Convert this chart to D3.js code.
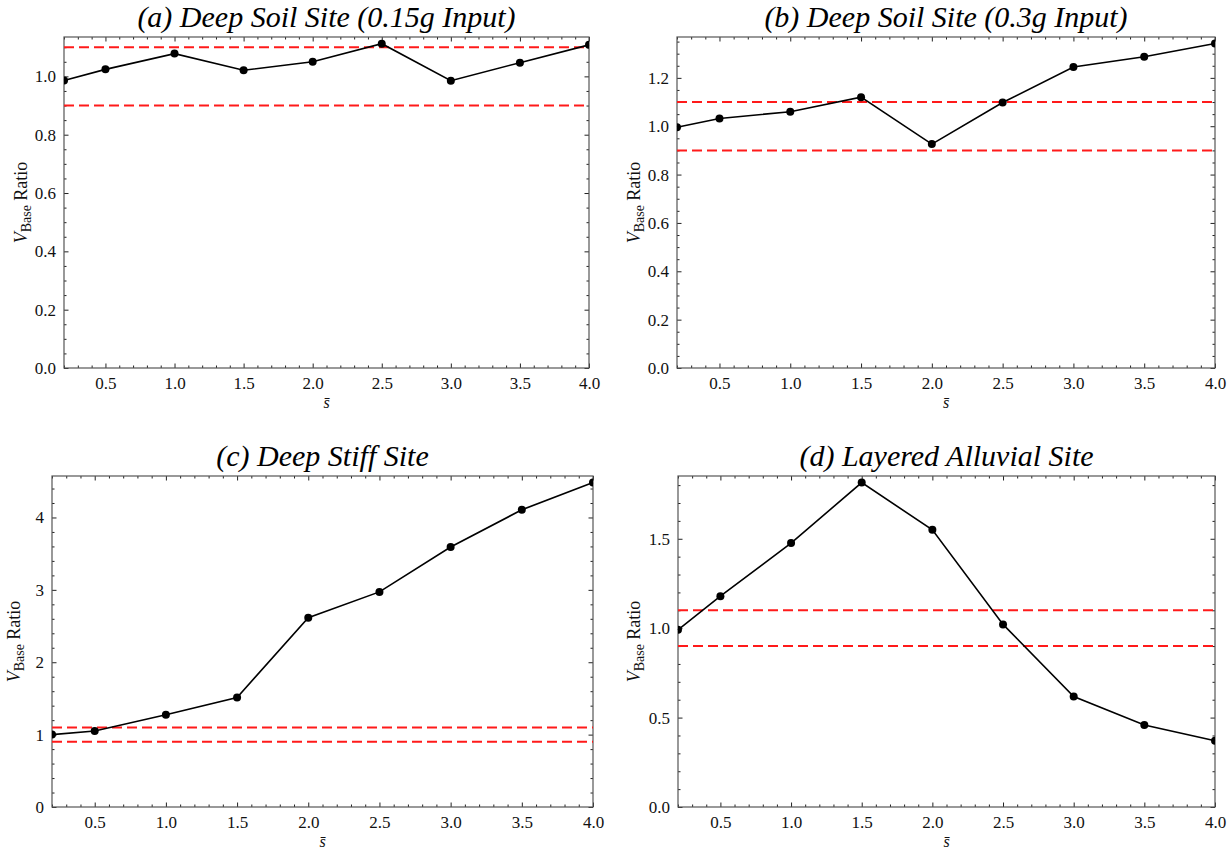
<!DOCTYPE html>
<html>
<head>
<meta charset="utf-8">
<script src="https://cdn.jsdelivr.net/npm/d3@7"></script>
<style>
  body { margin: 0; background: #fff; }
  svg { display: block; }
</style>
</head>
<body>
<svg id="chart" width="1228" height="852"></svg>
<script>
// ---- data ----
const sValues = [0.2, 0.5, 1.0, 1.5, 2.0, 2.5, 3.0, 3.5, 4.0];
const deepSoil015 = [0.986, 1.024, 1.078, 1.021, 1.050, 1.112, 0.985, 1.047, 1.108];
const deepSoil03 = [0.996, 1.032, 1.060, 1.120, 0.926, 1.098, 1.245, 1.287, 1.342];
const deepStiff = [1.000, 1.050, 1.275, 1.514, 2.615, 2.972, 3.592, 4.106, 4.482];
const layeredAlluvial = [0.991, 1.179, 1.476, 1.814, 1.550, 1.021, 0.618, 0.459, 0.371];
const limitLines = [1.1, 0.9];
const titles = ["(a) Deep Soil Site (0.15g Input)", "(b) Deep Soil Site (0.3g Input)", "(c) Deep Stiff Site", "(d) Layered Alluvial Site"];
const xTicks = [0.5, 1.0, 1.5, 2.0, 2.5, 3.0, 3.5, 4.0];
const yTicksA = [0.0, 0.2, 0.4, 0.6, 0.8, 1.0];
const yTicksB = [0.0, 0.2, 0.4, 0.6, 0.8, 1.0, 1.2];
const yTicksC = [0, 1, 2, 3, 4];
const yTicksD = [0.0, 0.5, 1.0, 1.5];

// ---- layout ----
const panels = [
  { series: deepSoil015, title: titles[0], yTicks: yTicksA, yMax: 1.135, yMinorStep: 0.05, fmt: d3.format(".1f"),
    left: 64, right: 589, top: 37, bottom: 368, ylabX: 27 },
  { series: deepSoil03, title: titles[1], yTicks: yTicksB, yMax: 1.369, yMinorStep: 0.05, fmt: d3.format(".1f"),
    left: 677, right: 1215, top: 37, bottom: 368, ylabX: 640 },
  { series: deepStiff, title: titles[2], yTicks: yTicksC, yMax: 4.573, yMinorStep: 0.2, fmt: d3.format("d"),
    left: 52, right: 593, top: 476, bottom: 807, ylabX: 20 },
  { series: layeredAlluvial, title: titles[3], yTicks: yTicksD, yMax: 1.851, yMinorStep: 0.1, fmt: d3.format(".1f"),
    left: 678, right: 1215, top: 476, bottom: 807, ylabX: 640 }
];

const svg = d3.select("#chart");
const FONT = 'Liberation Serif, Tinos, Times New Roman, Times, Nimbus Roman, FreeSerif, DejaVu Serif, Noto Serif, serif';

function range(a, b, step) {
  const out = [];
  const n = Math.floor((b - a) / step + 1e-9);
  for (let i = 0; i <= n; i++) out.push(+(a + i * step).toFixed(6));
  return out;
}

panels.forEach(p => {
  const x = d3.scaleLinear().domain([0.2, 4.0]).range([p.left, p.right]);
  const y = d3.scaleLinear().domain([0, p.yMax]).range([p.bottom, p.top]);
  const g = svg.append("g");

  const xMinor = range(0.2, 4.0, 0.1).filter(v => !xTicks.some(t => Math.abs(t - v) < 1e-6));
  const yMinor = range(0, p.yMax, p.yMinorStep).filter(v => !p.yTicks.some(t => Math.abs(t - v) < 1e-6));

  function styleAxis(sel) {
    sel.attr("font-family", FONT);
    sel.select(".domain").remove();
    sel.selectAll(".tick line").attr("stroke", "#222").attr("stroke-width", 1);
  }

  // bottom axis (labels)
  const gb = g.append("g").attr("transform", `translate(0,${p.bottom})`)
    .call(d3.axisBottom(x).tickValues(xTicks).tickSizeInner(-4.5).tickSizeOuter(0).tickPadding(9).tickFormat(d3.format(".1f")));
  styleAxis(gb);
  gb.selectAll("text").attr("font-size", 17).attr("fill", "#111");
  const gbm = g.append("g").attr("transform", `translate(0,${p.bottom})`)
    .call(d3.axisBottom(x).tickValues(xMinor).tickSizeInner(-2.5).tickSizeOuter(0).tickFormat(""));
  styleAxis(gbm);
  // top axis (ticks only)
  const gt = g.append("g").attr("transform", `translate(0,${p.top})`)
    .call(d3.axisTop(x).tickValues(xTicks).tickSizeInner(-4.5).tickSizeOuter(0).tickFormat(""));
  styleAxis(gt);
  const gtm = g.append("g").attr("transform", `translate(0,${p.top})`)
    .call(d3.axisTop(x).tickValues(xMinor).tickSizeInner(-2.5).tickSizeOuter(0).tickFormat(""));
  styleAxis(gtm);
  // left axis
  const gl = g.append("g").attr("transform", `translate(${p.left},0)`)
    .call(d3.axisLeft(y).tickValues(p.yTicks).tickSizeInner(-4.5).tickSizeOuter(0).tickPadding(8).tickFormat(p.fmt));
  styleAxis(gl);
  gl.selectAll("text").attr("font-size", 17).attr("fill", "#111");
  const glm = g.append("g").attr("transform", `translate(${p.left},0)`)
    .call(d3.axisLeft(y).tickValues(yMinor).tickSizeInner(-2.5).tickSizeOuter(0).tickFormat(""));
  styleAxis(glm);
  // right axis
  const gr = g.append("g").attr("transform", `translate(${p.right},0)`)
    .call(d3.axisRight(y).tickValues(p.yTicks).tickSizeInner(-4.5).tickSizeOuter(0).tickFormat(""));
  styleAxis(gr);
  const grm = g.append("g").attr("transform", `translate(${p.right},0)`)
    .call(d3.axisRight(y).tickValues(yMinor).tickSizeInner(-2.5).tickSizeOuter(0).tickFormat(""));
  styleAxis(grm);

  // frame
  g.append("rect").attr("x", p.left).attr("y", p.top)
    .attr("width", p.right - p.left).attr("height", p.bottom - p.top)
    .attr("fill", "none").attr("stroke", "#555").attr("stroke-width", 1.2);

  // clip
  const clipId = "clip" + p.left + "_" + p.top;
  svg.append("clipPath").attr("id", clipId).append("rect")
    .attr("x", p.left).attr("y", p.top).attr("width", p.right - p.left).attr("height", p.bottom - p.top);

  // limit lines
  g.selectAll(".limit").data(limitLines).enter().append("line")
    .attr("x1", p.left).attr("x2", p.right)
    .attr("y1", d => y(d)).attr("y2", d => y(d))
    .attr("stroke", "#ff1a1a").attr("stroke-width", 2).attr("stroke-dasharray", "10,5");

  // series line
  const pts = sValues.map((s, i) => [s, p.series[i]]);
  g.append("path").datum(pts)
    .attr("d", d3.line().x(d => x(d[0])).y(d => y(d[1])))
    .attr("fill", "none").attr("stroke", "#000").attr("stroke-width", 1.6);
  g.append("g").attr("clip-path", `url(#${clipId})`).selectAll("circle").data(pts).enter().append("circle")
    .attr("cx", d => x(d[0])).attr("cy", d => y(d[1])).attr("r", 4).attr("fill", "#000");

  // title
  g.append("text").attr("x", (p.left + p.right) / 2).attr("y", p.top - 10)
    .attr("text-anchor", "middle").attr("font-size", 30).attr("font-style", "italic").attr("fill", "#000")
    .attr("font-family", FONT)
    .text(p.title);

  // x label
  g.append("text").attr("x", (p.left + p.right) / 2).attr("y", p.bottom + 40)
    .attr("text-anchor", "middle").attr("font-size", 16).attr("font-style", "italic").attr("fill", "#111")
    .attr("font-family", FONT)
    .text("s\u0304");

  // y label
  const yl = g.append("text")
    .attr("transform", `translate(${p.ylabX},${(p.top + p.bottom) / 2}) rotate(-90)`)
    .attr("text-anchor", "middle").attr("font-size", 18).attr("fill", "#111")
    .attr("font-family", FONT);
  yl.append("tspan").attr("font-style", "italic").text("V");
  yl.append("tspan").attr("font-size", 14).attr("dy", 4).text("Base");
  yl.append("tspan").attr("dy", -4).text(" Ratio");
});
</script>
</body>
</html>
